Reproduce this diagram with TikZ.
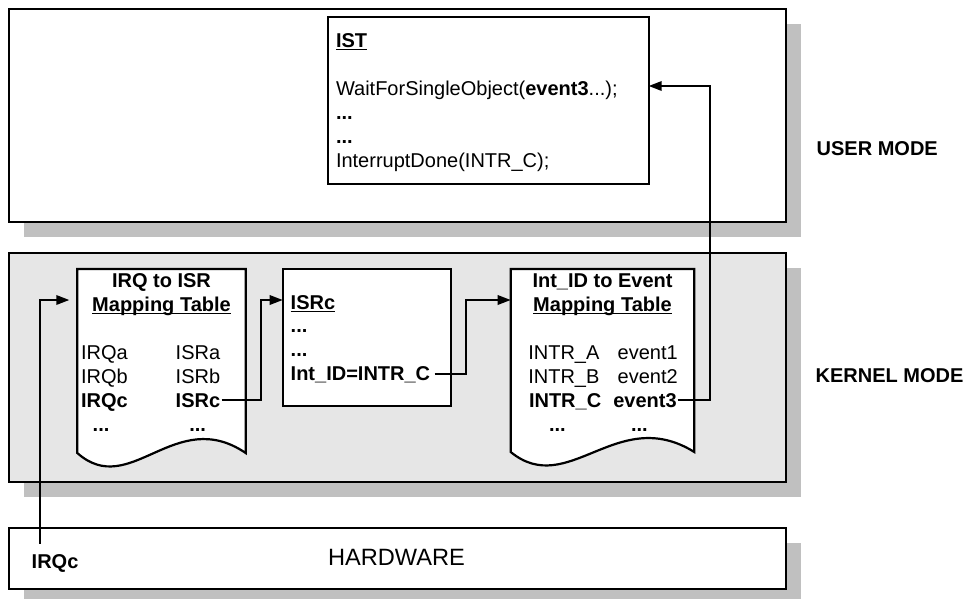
\documentclass[tikz,border=0pt]{standalone}
\usepackage{fontspec}
\setmainfont{Liberation Sans}
\usetikzlibrary{arrows.meta,shadows,calc}
\definecolor{shadowgray}{HTML}{C0C0C0}
\definecolor{kernelgray}{HTML}{E6E6E6}
% underlined text with a heavier rule
\newcommand\undl[1]{\setbox0\hbox{#1}\rlap{\raisebox{-3.2pt}{\rule{\wd0}{1.7pt}}}\box0}
\begin{document}
\begin{tikzpicture}[x=1pt,y=-1pt,
  txt/.style={inner sep=0pt,outer sep=0pt,anchor=base west,font=\fontsize{20}{24}\selectfont},
  ctxt/.style={txt,anchor=base},
  layer/.style={draw,line width=2.2pt,inner sep=0pt,outer sep=0pt,
    drop shadow={shadow xshift=15pt,shadow yshift=-15pt,opacity=1,fill=shadowgray}},
  card/.style={draw,fill=white,line width=2.2pt,inner sep=0pt,outer sep=0pt},
  docframe/.style={inner sep=0pt,outer sep=0pt},
  docline/.style={draw,fill=white,line width=2.2pt,line join=miter},
  arr/.style={line width=1.8pt,-{Triangle[length=13pt,width=9.5pt]}}
]
\useasboundingbox (0,0) rectangle (966,598);

% the three layers
\node[layer,fill=white,minimum width=776.7pt,minimum height=213pt] (user) at (397.35,115.5) {};
\node[layer,fill=kernelgray,minimum width=776.7pt,minimum height=229pt] (kernel) at (397.35,367.8) {};
\node[layer,fill=white,minimum width=776.7pt,minimum height=61.3pt] (hw) at (397.35,558.35) {};

% IST code box
\node[card,minimum width=320.7pt,minimum height=167.6pt] (ist) at (488.35,100.5) {};
\node[txt] (isthead) at (336,47) {\bfseries\undl{IST}};
\node[txt] (wait) at (336,95.5) {WaitForSingleObject(\textbf{event3}...);};
\node[txt] (istdots1) at (336,119.5) {\bfseries ...};
\node[txt] (istdots2) at (336,143.5) {\bfseries ...};
\node[txt] (done) at (336,167.5) {InterruptDone(INTR\_C);};

% IRQ to ISR mapping table (document shape)
\node[docframe,minimum width=168.4pt,minimum height=184pt] (map1) at (161.5,361) {};
\path[docline] (map1.north west) -- (map1.north east) -- (map1.south east)
  .. controls ($(map1.south west)!0.58!(map1.south east)+(0,-48)$)
  and ($(map1.south west)!0.314!(map1.south east)+(0,47)$) .. (map1.south west) -- cycle;
\node[ctxt] (m1a) at (161.5,287) {\bfseries IRQ to ISR};
\node[ctxt] (m1b) at (161.5,311) {\bfseries\undl{Mapping Table}};
\node[txt] (irqa) at (81,359) {IRQa};
\node[txt] (isra) at (175.7,359) {ISRa};
\node[txt] (irqb) at (81,383) {IRQb};
\node[txt] (isrb) at (175.7,383) {ISRb};
\node[txt] (irqc) at (81,407) {\bfseries IRQc};
\node[txt] (isrc1) at (175.7,407) {\bfseries ISRc};
\node[txt] (m1d1) at (92.7,431) {\bfseries ...};
\node[txt] (m1d2) at (189.3,431) {\bfseries ...};

% ISR box
\node[card,minimum width=168pt,minimum height=136.7pt] (isrbox) at (366.7,337.35) {};
\node[txt] (isrhead) at (290.7,309) {\bfseries\undl{ISRc}};
\node[txt] (isrd1) at (290.7,332) {\bfseries ...};
\node[txt] (isrd2) at (290.7,356) {\bfseries ...};
\node[txt] (intid) at (290.7,380) {\bfseries Int\_ID=INTR\_C};

% Int_ID to Event mapping table (document shape)
\node[docframe,minimum width=183.6pt,minimum height=183pt] (map2) at (602.5,360.5) {};
\path[docline] (map2.north west) -- (map2.north east) -- (map2.south east)
  .. controls ($(map2.south west)!0.58!(map2.south east)+(0,-48)$)
  and ($(map2.south west)!0.314!(map2.south east)+(0,47)$) .. (map2.south west) -- cycle;
\node[ctxt] (m2a) at (602.5,287) {\bfseries Int\_ID to Event};
\node[ctxt] (m2b) at (602.5,311) {\bfseries\undl{Mapping Table}};
\node[txt] (intra) at (528.3,359) {INTR\_A};
\node[txt] (ev1) at (617.7,359) {event1};
\node[txt] (intrb) at (528.3,383) {INTR\_B};
\node[txt] (ev2) at (617.7,383) {event2};
\node[txt] (intrc) at (529,407) {\bfseries INTR\_C};
\node[txt] (ev3) at (613.3,407) {\bfseries event3};
\node[txt] (m2d1) at (549,431) {\bfseries ...};
\node[txt] (m2d2) at (631,431) {\bfseries ...};

% layer labels
\node[txt] (usermode) at (816.7,155) {\bfseries USER MODE};
\node[txt] (kernelmode) at (815.7,382.7) {\bfseries KERNEL MODE};
\node[txt,font=\fontsize{23.6}{28}\selectfont] (hwlabel) at (328,565.7) {HARDWARE};
\node[txt] (hwirq) at (31.7,568.3) {\bfseries IRQc};

% connectors
\coordinate (lvl) at (0,300);
\coordinate (istin) at (0,86);
\draw[arr] ($(hwirq.north west)+(8.3,-10.7)$) |- ($(map1.west |- lvl)+(-8,0)$);
\draw[arr] ([xshift=1.5pt]isrc1.east) -- ++(39,0) |- (isrbox.west |- lvl);
\draw[arr] ([xshift=4.5pt]intid.east) -- ++(31,0) |- (map2.west |- lvl);
\draw[arr] ([xshift=1pt]ev3.east) -- ++(32,0) |- (ist.east |- istin);
\end{tikzpicture}
\end{document}
